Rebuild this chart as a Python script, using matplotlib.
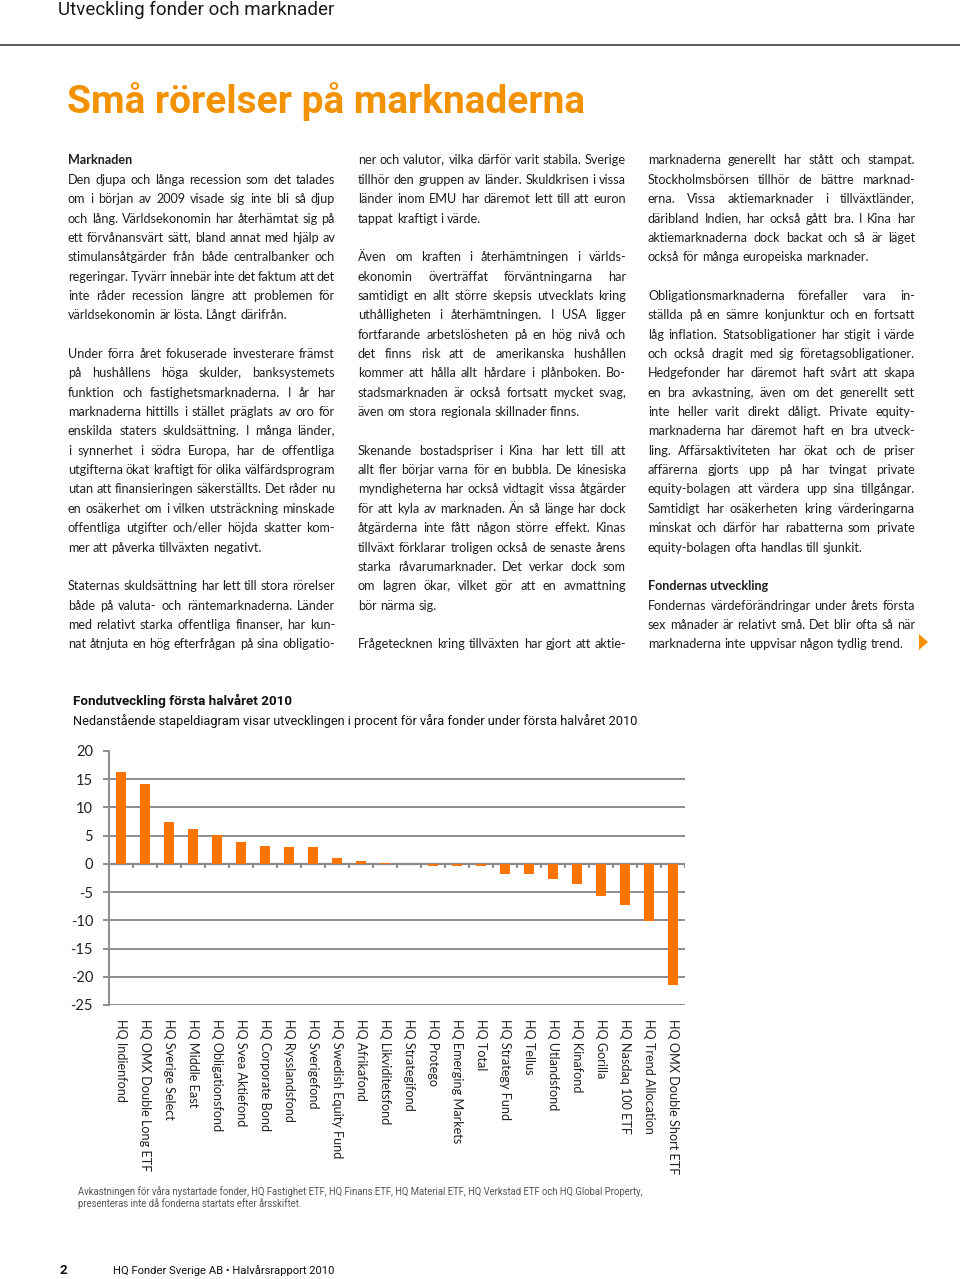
import matplotlib
matplotlib.use("Agg")
import matplotlib.pyplot as plt
from matplotlib.patches import Polygon
from matplotlib.font_manager import FontProperties, findfont, get_font, fontManager

# Fund returns first half 2010 (%)
funds = ["HQ Indienfond", "HQ OMX Double Long ETF", "HQ Sverige Select", "HQ Middle East",
         "HQ Obligationsfond", "HQ Svea Aktiefond", "HQ Corporate Bond", "HQ Rysslandsfond",
         "HQ Sverigefond", "HQ Swedish Equity Fund", "HQ Afrikafond", "HQ Likviditetsfond",
         "HQ Strategifond", "HQ Protego", "HQ Emerging Markets", "HQ Total",
         "HQ Strategy Fund", "HQ Tellus", "HQ Utlandsfond", "HQ Kinafond",
         "HQ Gorilla", "HQ Nasdaq 100 ETF", "HQ Trend Allocation", "HQ OMX Double Short ETF"]
returns = [16.3, 14.2, 7.5, 6.2, 5.1, 3.8, 3.2, 3.0, 3.0, 1.0, 0.6, 0.2,
           0.0, -0.4, -0.3, -0.3, -1.8, -1.8, -2.7, -3.6, -5.7, -7.3, -10.1, -21.4]
yticks = [20, 15, 10, 5, 0, -5, -10, -15, -20, -25]

header = "Utveckling fonder och marknader"
title = "Små rörelser på marknaderna"
chart_title = "Fondutveckling första halvåret 2010"
chart_sub = "Nedanstående stapeldiagram visar utvecklingen i procent för våra fonder under första halvåret 2010"
footnote = ["Avkastningen för våra nystartade fonder, HQ Fastighet ETF, HQ Finans ETF, HQ Material ETF, HQ Verkstad ETF och HQ Global Property,",
            "presenteras inte då fonderna startats efter årsskiftet."]
footer = "HQ Fonder Sverige AB • Halvårsrapport 2010"

# "**" marks a bold heading line, "" an empty line
col1 = ["**Marknaden",
        "Den djupa och långa recession som det talades",
        "om i början av 2009 visade sig inte bli så djup",
        "och lång. Världsekonomin har återhämtat sig på",
        "ett förvånansvärt sätt, bland annat med hjälp av",
        "stimulansåtgärder från både centralbanker och",
        "regeringar. Tyvärr innebär inte det faktum att det",
        "inte råder recession längre att problemen för",
        "världsekonomin är lösta. Långt därifrån.",
        "",
        "Under förra året fokuserade investerare främst",
        "på hushållens höga skulder, banksystemets",
        "funktion och fastighetsmarknaderna. I år har",
        "marknaderna hittills i stället präglats av oro för",
        "enskilda staters skuldsättning. I många länder,",
        "i synnerhet i södra Europa, har de offentliga",
        "utgifterna ökat kraftigt för olika välfärdsprogram",
        "utan att finansieringen säkerställts. Det råder nu",
        "en osäkerhet om i vilken utsträckning minskade",
        "offentliga utgifter och/eller höjda skatter kom-",
        "mer att påverka tillväxten negativt.",
        "",
        "Staternas skuldsättning har lett till stora rörelser",
        "både på valuta- och räntemarknaderna. Länder",
        "med relativt starka offentliga finanser, har kun-",
        "nat åtnjuta en hög efterfrågan på sina obligatio-"]
col2 = ["ner och valutor, vilka därför varit stabila. Sverige",
        "tillhör den gruppen av länder. Skuldkrisen i vissa",
        "länder inom EMU har däremot lett till att euron",
        "tappat kraftigt i värde.",
        "",
        "Även om kraften i återhämtningen i världs-",
        "ekonomin överträffat förväntningarna har",
        "samtidigt en allt större skepsis utvecklats kring",
        "uthålligheten i återhämtningen. I USA ligger",
        "fortfarande arbetslösheten på en hög nivå och",
        "det finns risk att de amerikanska hushållen",
        "kommer att hålla allt hårdare i plånboken. Bo-",
        "stadsmarknaden är också fortsatt mycket svag,",
        "även om stora regionala skillnader finns.",
        "",
        "Skenande bostadspriser i Kina har lett till att",
        "allt fler börjar varna för en bubbla. De kinesiska",
        "myndigheterna har också vidtagit vissa åtgärder",
        "för att kyla av marknaden. Än så länge har dock",
        "åtgärderna inte fått någon större effekt. Kinas",
        "tillväxt förklarar troligen också de senaste årens",
        "starka råvarumarknader. Det verkar dock som",
        "om lagren ökar, vilket gör att en avmattning",
        "bör närma sig.",
        "",
        "Frågetecknen kring tillväxten har gjort att aktie-"]
col3 = ["marknaderna generellt har stått och stampat.",
        "Stockholmsbörsen tillhör de bättre marknad-",
        "erna. Vissa aktiemarknader i tillväxtländer,",
        "däribland Indien, har också gått bra. I Kina har",
        "aktiemarknaderna dock backat och så är läget",
        "också för många europeiska marknader.",
        "",
        "Obligationsmarknaderna förefaller vara in-",
        "ställda på en sämre konjunktur och en fortsatt",
        "låg inflation. Statsobligationer har stigit i värde",
        "och också dragit med sig företagsobligationer.",
        "Hedgefonder har däremot haft svårt att skapa",
        "en bra avkastning, även om det generellt sett",
        "inte heller varit direkt dåligt. Private equity-",
        "marknaderna har däremot haft en bra utveck-",
        "ling. Affärsaktiviteten har ökat och de priser",
        "affärerna gjorts upp på har tvingat private",
        "equity-bolagen att värdera upp sina tillgångar.",
        "Samtidigt har osäkerheten kring värderingarna",
        "minskat och därför har rabatterna som private",
        "equity-bolagen ofta handlas till sjunkit.",
        "",
        "**Fondernas utveckling",
        "Fondernas värdeförändringar under årets första",
        "sex månader är relativt små. Det blir ofta så när",
        "marknaderna inte uppvisar någon tydlig trend."]

orange = "#F39200"
bar_color = "#FF7400"
grid_gray = "#8C8C8C"
text_col = "#231F20"
body_font = "Lato"
din_font = "Roboto"
body_size = 9.05

fig = plt.figure(figsize=(9.6, 12.79), dpi=100)
renderer = fig.canvas.get_renderer()

# page layer in pixel coordinates
bg = fig.add_axes([0, 0, 1, 1])
bg.set_xlim(0, 960)
bg.set_ylim(1279, 0)
bg.axis("off")

bg.text(58, 15, header, fontsize=13.5, family=din_font, color="#1a1a1a", va="baseline")
bg.plot([0, 960], [45, 45], color="#4d4d4d", lw=1.3)
bg.text(67, 113, title, fontsize=28, family=din_font, weight="bold",
        color=orange, va="baseline")

body_prop = FontProperties(family=body_font, size=body_size)


def text_width(s):
    return renderer.get_text_width_height_descent(s, body_prop, ismath=False)[0]


space_w = text_width("a a") - text_width("aa")


def baseline_shift(word):
    # Agg snaps each text bitmap by its own descent; work out the pixel it lands off by
    try:
        from matplotlib.backends.backend_agg import get_hinting_flag
        try:
            paths = fontManager._find_fonts_by_props(body_prop)
        except Exception:
            paths = [findfont(body_prop)]
        font = get_font(paths)
        font.clear()
        font.set_size(body_prop.get_size_in_points(), fig.dpi)
        font.set_text(word, 0, flags=get_hinting_flag())
        desc = font.get_descent()
        hh = font.get_width_height()[1]
        return round(desc / 64) - hh // 64 + (hh - desc) // 64
    except Exception:
        return 0


def draw_column(lines, x0, x1, y0, pitch=19.35):
    for i, line in enumerate(lines):
        if not line:
            continue
        y = round(y0 + i * pitch + 4.5)
        if line.startswith("**"):
            bg.text(x0, y, line[2:], fontsize=body_size, family=body_font, weight="bold",
                    color=text_col, va="baseline")
            continue
        nxt = lines[i + 1] if i + 1 < len(lines) else None
        justify = (nxt is not None and nxt != "") or (nxt is None and line.endswith("-"))
        words = line.split()
        widths = [text_width(w) for w in words]
        gap = space_w
        if justify and len(words) > 1:
            gap = max((x1 - x0 - sum(widths)) / (len(words) - 1), 2.0)
        x = x0
        for w, wd in zip(words, widths):
            bg.text(x, y - baseline_shift(w), w, fontsize=body_size, family=body_font,
                    color=text_col, va="baseline")
            x += wd + gap


draw_column(col1, 68, 335, 160)
draw_column(col2, 358, 626, 160)
draw_column(col3, 648, 915, 160)
bg.add_patch(Polygon([[919, 634], [919, 650], [928, 642]], closed=True, color=orange, lw=0))

# chart headings
bg.text(73, 705, chart_title, fontsize=9.6, family=din_font, weight="bold", color="#111111", va="baseline")
bg.text(73, 725, chart_sub, fontsize=9.2, family=din_font, color="#111111", va="baseline")

# bar chart
ax = fig.add_axes([109 / 960, 1 - 1005 / 1279, 576 / 960, 254 / 1279])
xs = list(range(len(funds)))
ax.bar(xs, returns, width=0.42, color=bar_color, zorder=3)
ax.set_xlim(-0.5, len(funds) - 0.5)
ax.set_ylim(-25, 20)
ax.set_yticks(yticks)
ax.set_yticklabels([str(v) for v in yticks], fontsize=10.5, family=body_font, color="#222222")
ax.tick_params(axis="y", length=4.5, width=1.4, color=grid_gray, pad=7)
ax.grid(axis="y", color=grid_gray, lw=1.4, zorder=1)
ax.get_ygridlines()[0].set_visible(False)
ax.set_axisbelow(True)
for s in ["top", "right", "bottom"]:
    ax.spines[s].set_visible(False)
ax.spines["left"].set_color(grid_gray)
ax.spines["left"].set_linewidth(1.4)

# category separators on the zero line
ax.axhline(0, color=grid_gray, lw=1.6, zorder=2)
ax.vlines([x - 0.5 for x in range(len(funds) + 1)], -0.75, 0, color=grid_gray, lw=1.4, zorder=2)

ax.set_xticks(xs)
ax.set_xticklabels(funds, rotation=-90, fontsize=9.1, family=body_font, color="#222222",
                   va="top", ha="center")
ax.tick_params(axis="x", length=0, pad=10)

# footnote and footer
bg.text(78, 1195, footnote[0], fontsize=6.85, family=din_font, color="#555555", va="baseline")
bg.text(78, 1207, footnote[1], fontsize=6.85, family=din_font, color="#555555", va="baseline")
bg.text(60, 1274, "2", fontsize=9.5, family=din_font, weight="bold", color="#111111", va="baseline")
bg.text(113, 1274, footer, fontsize=8.1, family=din_font, color="#111111", va="baseline")

fig.savefig("out.png", dpi=100)
